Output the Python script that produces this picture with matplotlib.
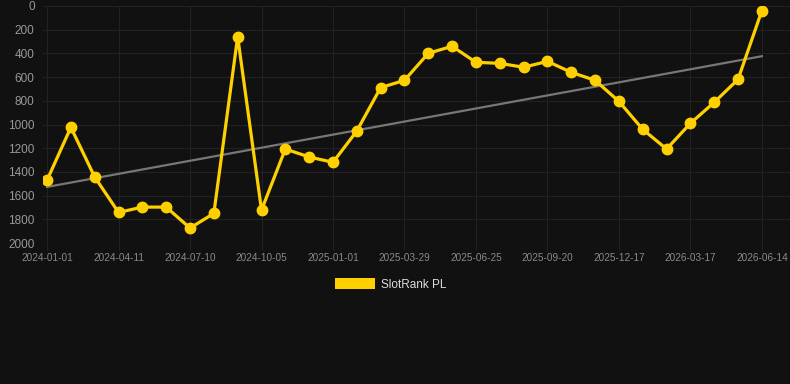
import numpy as np
import matplotlib.pyplot as plt
from matplotlib.patches import Patch

# rank values (lower is better, axis is inverted)
rank = [1470, 1024, 1443, 1742, 1697, 1697, 1874, 1750, 259, 1722,
        1207, 1274, 1319, 1055, 689, 627, 399, 340, 475, 484,
        517, 467, 560, 627, 805, 1041, 1207, 990, 813, 619, 39]
tick_labels = ['2024-01-01', '2024-04-11', '2024-07-10', '2024-10-05', '2025-01-01',
               '2025-03-29', '2025-06-25', '2025-09-20', '2025-12-17', '2026-03-17',
               '2026-06-14']
series_name = 'SlotRank PL'

bg = '#111111'
gold = '#ffd000'

x = np.arange(len(rank))
slope, icpt = np.polyfit(x, rank, 1)

fig = plt.figure(figsize=(7.9, 3.84), dpi=100, facecolor=bg)
ax = fig.add_axes([43 / 790, 1 - 243 / 384, 1 - 43 / 790, 237 / 384])
ax.set_facecolor(bg)

ax.plot(x, slope * x + icpt, color='#777777', lw=1.6, zorder=2)
ax.plot(x, rank, color=gold, lw=2.3, marker='o', ms=7.5,
        solid_joinstyle='miter', zorder=3)

ax.set_xlim(-0.17, 31.18)
ax.set_ylim(2000, 0)
ax.set_yticks(np.arange(0, 2001, 200))
ax.set_xticks(x[::3])
ax.set_xticklabels(tick_labels)

ax.grid(True, color='#222222', lw=0.8)
for s in ax.spines.values():
    s.set_visible(False)
ax.tick_params(axis='x', colors='#222222', labelcolor='#8a8a8a', labelsize=7.2,
               length=5, pad=2)
ax.tick_params(axis='y', length=0, labelcolor='#999999', labelsize=8.5, pad=6)
for t in ax.get_xticklabels() + ax.get_yticklabels():
    t.set_fontfamily('Liberation Sans')

leg = fig.legend(handles=[Patch(facecolor=gold, edgecolor='none', label=series_name)],
                 loc='center', bbox_to_anchor=(0.494, 0.259), frameon=False,
                 handlelength=3.4, handleheight=0.95, handletextpad=0.5,
                 prop={'family': 'Liberation Sans', 'size': 8.5})
for t in leg.get_texts():
    t.set_color('#dddddd')

fig.savefig('out.png', facecolor=bg)
